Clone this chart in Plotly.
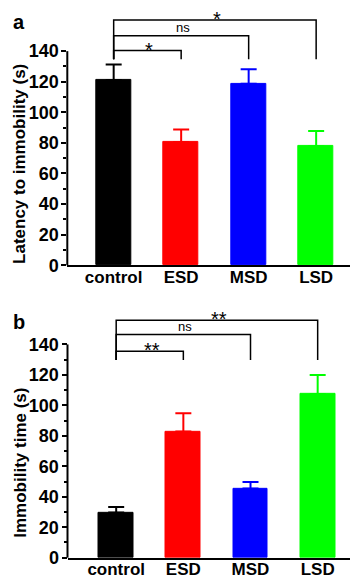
import plotly.graph_objects as go

categories = ["control", "ESD", "MSD", "LSD"]
colors = ["#000000", "#FF0000", "#0000FF", "#00FF00"]

# Panel a: Latency to immobility (s)
latency_mean = [121.2, 80.6, 118.6, 77.8]
latency_err_top = [131.2, 88.7, 128.2, 87.7]
# Panel b: Immobility time (s)
immob_mean = [29.7, 82.8, 45.4, 107.5]
immob_err_top = [33.3, 94.8, 49.7, 120.0]

yticks = [0, 20, 40, 60, 80, 100, 120, 140]
yminor = [10, 30, 50, 70, 90, 110, 130]

# significance brackets: (from index, to index, level, label)
brackets_a = [(0, 1, 140.4, "*"), (0, 2, 150.1, "ns"), (0, 3, 160.4, "*")]
legs_a = 134.7
brackets_b = [(0, 1, 135.5, "**"), (0, 2, 146.5, "ns"), (0, 3, 155.9, "**")]
legs_b = 129.7

W, H = 358, 581
FONT = "Liberation Sans, Arial, sans-serif"

panels = [
    dict(mean=latency_mean, top=latency_err_top, br=brackets_a, legs=legs_a,
         title="Latency to immobility (s)", xr=[-0.687, 3.66], yr=[0, 165],
         xdom=[59.3 / W, 352.7 / W], ydom=[1 - 261.7 / H, 1 - 5 / H],
         xa="x", ya="y", letter="a", ly=1 - 1 / H, ty=1 - 159 / H),
    dict(mean=immob_mean, top=immob_err_top, br=brackets_b, legs=legs_b,
         title="Immobility time (s)", xr=[-0.725, 3.66], yr=[0, 167.3],
         xdom=[59.5 / W, 354 / W], ydom=[1 - 559.3 / H, 1 - 300 / H],
         xa="x2", ya="y2", letter="b", ly=1 - 306 / H, ty=1 - 463 / H),
]

fig = go.Figure()
shapes = []
annotations = []
layout = {}

for p in panels:
    for i, cat in enumerate(categories):
        fig.add_trace(go.Bar(
            x=[i], y=[p["mean"][i]], width=0.52,
            marker=dict(color=colors[i], line=dict(color=colors[i], width=1)),
            error_y=dict(type="data", symmetric=False,
                         array=[p["top"][i] - p["mean"][i]], arrayminus=[0],
                         color=colors[i], thickness=2, width=8),
            xaxis=p["xa"], yaxis=p["ya"], showlegend=False,
        ))
    xk = "xaxis" if p["xa"] == "x" else "xaxis2"
    yk = "yaxis" if p["ya"] == "y" else "yaxis2"
    layout[xk] = dict(domain=p["xdom"], range=p["xr"], anchor=p["ya"],
                      tickvals=list(range(len(categories))), ticktext=categories,
                      showline=True, linecolor="black", linewidth=2,
                      ticks="", ticklabelstandoff=-5,
                      tickfont=dict(family=FONT, size=17, color="black", weight="bold"),
                      showgrid=False, zeroline=False, fixedrange=True)
    layout[yk] = dict(domain=p["ydom"], range=p["yr"], anchor=p["xa"],
                      tickvals=yticks, ticks="outside", ticklen=5, tickwidth=2,
                      tickcolor="black", ticklabelstandoff=-1,
                      minor=dict(tickvals=yminor, ticks="outside", ticklen=3,
                                 tickwidth=1.5, tickcolor="black", showgrid=False),
                      tickfont=dict(family=FONT, size=18, color="black", weight="bold"),
                      showline=False, showgrid=False, zeroline=False, fixedrange=True)
    # y axis line from 0 to the last tick
    shapes.append(dict(type="line", xref=p["xa"] + " domain", yref=p["ya"] + " domain",
                       x0=0, x1=0, y0=0, y1=yticks[-1] / p["yr"][1],
                       line=dict(color="black", width=2)))
    # brackets
    for (a, b, lvl, lab) in p["br"]:
        shapes.append(dict(type="path", xref=p["xa"], yref=p["ya"],
                           path=f"M {a},{p['legs']} L {a},{lvl} L {b},{lvl} L {b},{p['legs']}",
                           line=dict(color="black", width=1.5)))
        star = "*" in lab
        annotations.append(dict(x=(a + b) / 2, y=lvl, xref=p["xa"], yref=p["ya"],
                                text=lab, showarrow=False, yanchor="bottom",
                                xshift=2, yshift=-12 if star else -1,
                                font=dict(family=FONT, size=20 if star else 13, color="black")))
    # y-axis title
    annotations.append(dict(x=11.7 / W, y=p["ty"], xref="paper", yref="paper",
                            text="<b>" + p["title"] + "</b>", showarrow=False,
                            textangle=-90, xanchor="center", yanchor="middle",
                            font=dict(family=FONT, size=17, color="black")))
    # panel letter
    annotations.append(dict(x=0.008, y=p["ly"], xref="paper", yref="paper",
                            text="<b>" + p["letter"] + "</b>", showarrow=False,
                            xanchor="left", yanchor="top",
                            font=dict(family=FONT, size=20, color="black")))

fig.update_layout(width=W, height=H, margin=dict(l=0, r=0, t=0, b=0),
                  autosize=False, plot_bgcolor="white", paper_bgcolor="white",
                  bargap=0, shapes=shapes, annotations=annotations, **layout)

fig.write_html("out.html")
